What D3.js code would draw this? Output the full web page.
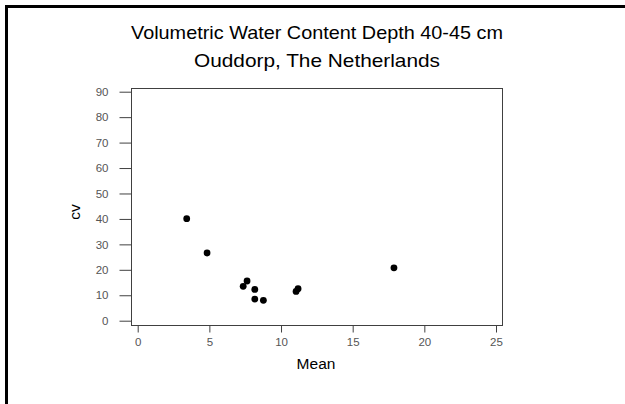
<!DOCTYPE html>
<html><head><meta charset="utf-8">
<script src="https://cdn.jsdelivr.net/npm/d3@7"></script>
<style>body{margin:0;background:#fff}svg{display:block}</style>
</head><body>
<svg id="c" width="625" height="404"></svg>
<script>
const meanValues = [3.42, 4.84, 7.36, 7.63, 8.17, 8.17, 8.77, 11.05, 11.19, 17.88];
const cvValues   = [40.1, 26.6, 13.5, 15.6, 12.3, 8.5, 8.0, 11.5, 12.6, 20.8];
const xTicks = [0, 5, 10, 15, 20, 25];
const yTicks = [0, 10, 20, 30, 40, 50, 60, 70, 80, 90];
const titleLines = ["Volumetric Water Content Depth 40-45 cm", "Ouddorp, The Netherlands"];
const titleWidths = [372, 246];
const xLabel = "Mean", yLabel = "cv";

const svg = d3.select("#c");
const font = "Arial, 'Liberation Sans', sans-serif";
// frame
svg.append("rect").attr("x",5).attr("y",5).attr("width",625).attr("height",3).attr("fill","#000");
svg.append("rect").attr("x",5).attr("y",5).attr("width",3).attr("height",404).attr("fill","#000");

const x = d3.scaleLinear().domain([0,25]).range([137.7,496]);
const y = d3.scaleLinear().domain([0,90]).range([320.7,91.7]);
const box = {l:131, r:502, t:88, b:325};

svg.append("rect").attr("x",box.l+0.5).attr("y",box.t+0.5).attr("width",box.r-box.l).attr("height",box.b-box.t)
  .attr("fill","none").attr("stroke","#404040").attr("stroke-width",1);

const xAxis = svg.append("g").attr("transform",`translate(0,${box.b+0.5})`)
  .call(d3.axisBottom(x).tickValues(xTicks).tickSize(7).tickPadding(5));
const yAxis = svg.append("g").attr("transform",`translate(${box.l+0.5},0)`)
  .call(d3.axisLeft(y).tickValues(yTicks).tickSize(12).tickPadding(11));
[xAxis,yAxis].forEach(g=>{
  g.select(".domain").remove();
  g.selectAll("line").attr("stroke","#404040");
  g.selectAll("text").attr("fill","#555").style("font-family",font).style("font-size","11.5px");
});

svg.selectAll("circle.pt").data(meanValues.map((m,i)=>({m,c:cvValues[i]}))).enter()
  .append("circle").attr("class","pt").attr("cx",d=>x(d.m)).attr("cy",d=>y(d.c)).attr("r",3.4).attr("fill","#000");

svg.selectAll("text.title").data(titleLines).enter().append("text").attr("class","title")
  .attr("x",317).attr("y",(d,i)=>39+i*28).attr("text-anchor","middle")
  .attr("textLength",(d,i)=>titleWidths[i]).attr("lengthAdjust","spacingAndGlyphs")
  .style("font-family",font).style("font-size","18.5px").attr("fill","#000").text(d=>d);

svg.append("text").attr("x",316).attr("y",369).attr("text-anchor","middle")
  .style("font-family",font).style("font-size","15.5px").text(xLabel);
svg.append("text").attr("transform","translate(80,212) rotate(-90)").attr("text-anchor","middle")
  .style("font-family",font).style("font-size","15.5px").text(yLabel);
</script>
</body></html>
